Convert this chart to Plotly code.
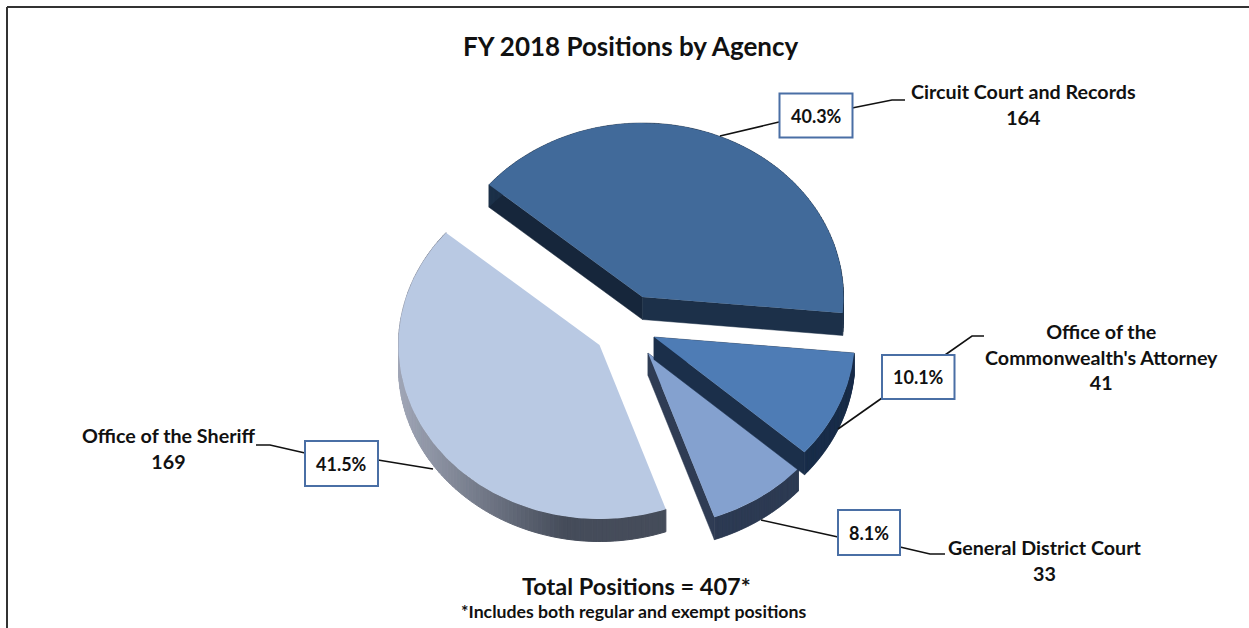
import math
import plotly.graph_objects as go

# ---- data ----
agencies = ["Circuit Court and Records", "Office of the Commonwealth's Attorney",
            "General District Court", "Office of the Sheriff"]
positions = [164, 41, 33, 169]
total_note = "Total Positions = 407*"
sub_note = "*Includes both regular and exempt positions"
title_text = "FY 2018 Positions by Agency"
label_text = ["Circuit Court and Records<br>164",
              "Office of the<br>Commonwealth's Attorney<br>41",
              "General District Court<br>33",
              "Office of the Sheriff<br>169"]

# ---- styling / layout ----
W, H = 1249, 628
FONT = "Lato, Liberation Sans, sans-serif"
RX, RY, DEPTH = 201, 174, 22.5
START = 139.8
apex = [(642.5, 297), (654, 337), (648, 353), (599.5, 345)]
top_col = ["#416a9a", "#4e7cb5", "#84a1cf", "#b9c9e3"]
side_col = ["#1c3049", "#1b2f4a", "#2f3c54", None]
cut_col = ["#16263b", "#1b2f4a", "#2f3c54", None]
boxes = [(779.5, 93.5, 852.5, 137.5), (882, 355, 954.5, 399), (838, 510, 900, 555), (305, 441, 378, 486)]
leaders = [
    [(720, 136), (779, 122)], [(852, 108), (892, 100), (905, 100)],
    [(838, 429), (882, 398)], [(945, 355), (972, 336), (984, 336)],
    [(761, 520), (838, 537)], [(900, 547), (930, 554), (945, 554)],
    [(378, 460), (433, 469)], [(305, 453), (270, 445), (256, 445)],
]
label_pos = [(1023, 104.5), (1101, 356.5), (1044, 560), (168, 448.5)]
draw_order = [0, 3, 2, 1]


def lerp_hex(a, b, t):
    t = max(0.0, min(1.0, t))
    ca = [int(a[i:i + 2], 16) for i in (1, 3, 5)]
    cb = [int(b[i:i + 2], 16) for i in (1, 3, 5)]
    return "#%02x%02x%02x" % tuple(round(x + (y - x) * t) for x, y in zip(ca, cb))


total = sum(positions)
spans, a = [], START
for p in positions:
    s = p / total * 360
    spans.append((a, a - s))
    a -= s


def arc(i, n=120):
    a0, a1 = spans[i]
    cx, cy = apex[i]
    return [(cx + RX * math.cos(math.radians(a0 + (a1 - a0) * k / n)),
             cy - RY * math.sin(math.radians(a0 + (a1 - a0) * k / n))) for k in range(n + 1)]


def poly(pts, color, name=None, width=0.0):
    xs = [p[0] for p in pts] + [pts[0][0]]
    ys = [p[1] for p in pts] + [pts[0][1]]
    return go.Scatter(x=xs, y=ys, mode="lines", fill="toself", fillcolor=color,
                      line=dict(color=color, width=width), hoverinfo="skip" if name is None else "text",
                      text=name, showlegend=False)


def quad(p, q):
    return [p, q, (q[0], q[1] + DEPTH), (p[0], p[1] + DEPTH)]


fig = go.Figure()
for i in draw_order:
    cx, cy = apex[i]
    pts = arc(i)
    if side_col[i] is None:
        for p, q in zip(pts[:-1], pts[1:]):
            t = ((p[0] + q[0]) / 2 - (cx - RX)) / 165
            fig.add_trace(poly(quad(p, q), lerp_hex("#a0a6b6", "#454c5a", t), width=1))
    else:
        fig.add_trace(poly(quad((cx, cy), pts[0]), cut_col[i], width=0.5))
        fig.add_trace(poly(quad(pts[-1], (cx, cy)), side_col[i], width=0.5))
        xs, ys = [], []
        for p, q in zip(pts[:-1], pts[1:]):
            for r in quad(p, q) + [p]:
                xs.append(r[0]); ys.append(r[1])
            xs.append(None); ys.append(None)
        fig.add_trace(go.Scatter(x=xs, y=ys, mode="lines", fill="toself", fillcolor=side_col[i],
                                 line=dict(color=side_col[i], width=0.5), hoverinfo="skip", showlegend=False))
    fig.add_trace(poly([(cx, cy)] + pts, top_col[i], name=f"{agencies[i]}: {positions[i]}"))

for seg in leaders:
    fig.add_trace(go.Scatter(x=[p[0] for p in seg], y=[p[1] for p in seg], mode="lines",
                             line=dict(color="#111111", width=1.6), hoverinfo="skip", showlegend=False))

shapes = [dict(type="rect", xref="x", yref="y", x0=b[0], y0=b[1], x1=b[2], y1=b[3],
               fillcolor="white", line=dict(color="#4a6fa5", width=2), layer="above") for b in boxes]
# frame
shapes.append(dict(type="line", xref="x", yref="y", x0=7, y0=7, x1=W, y1=7, line=dict(color="#333333", width=2)))
shapes.append(dict(type="line", xref="x", yref="y", x0=7, y0=7, x1=7, y1=H, line=dict(color="#333333", width=2)))

ann = []
for i, b in enumerate(boxes):
    ann.append(dict(x=(b[0] + b[2]) / 2, y=(b[1] + b[3]) / 2, xref="x", yref="y", showarrow=False,
                    text=f"<b>{positions[i] / total * 100:.1f}%</b>",
                    font=dict(family=FONT, size=18, color="#111111")))
for t, (x, y) in zip(label_text, label_pos):
    ann.append(dict(x=x, y=y, xref="x", yref="y", showarrow=False, text=f"<b>{t}</b>", align="center",
                    font=dict(family=FONT, size=19.7, color="#111111")))
ann.append(dict(x=631, y=46, xref="x", yref="y", showarrow=False, text=f"<b>{title_text}</b>",
                font=dict(family=FONT, size=26, color="#111111")))
ann.append(dict(x=636, y=586, xref="x", yref="y", showarrow=False, text=f"<b>{total_note}</b>",
                font=dict(family=FONT, size=23.5, color="#111111")))
ann.append(dict(x=633, y=611, xref="x", yref="y", showarrow=False, text=f"<b>{sub_note}</b>",
                font=dict(family=FONT, size=17.7, color="#111111")))

fig.update_layout(width=W, height=H, margin=dict(l=0, r=0, t=0, b=0), paper_bgcolor="white", plot_bgcolor="white",
                  xaxis=dict(range=[0, W], visible=False, fixedrange=True),
                  yaxis=dict(range=[H, 0], visible=False, fixedrange=True),
                  shapes=shapes, annotations=ann, showlegend=False)
fig.write_html("out.html", config=dict(displayModeBar=False),
               post_script="document.body.style.margin='0';document.documentElement.style.overflow='hidden';")
